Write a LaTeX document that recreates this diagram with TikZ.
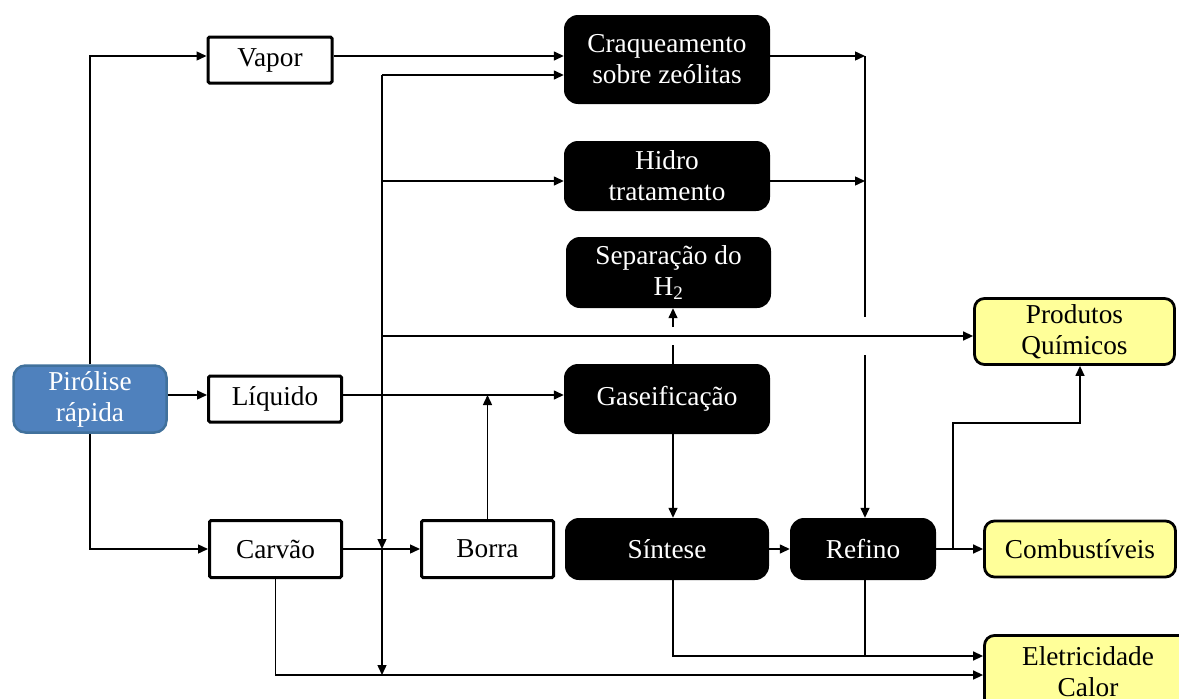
\documentclass[tikz,border=0pt]{standalone}
\usepackage{fontspec}
\setmainfont{Liberation Serif}
\usetikzlibrary{arrows.meta}
\definecolor{pirblue}{HTML}{4F81BD}
\definecolor{pirborder}{HTML}{41719C}
\definecolor{prodyellow}{HTML}{FFFF99}
\newcommand\fsz{\fontsize{27.3}{31}\selectfont}
\tikzset{
  line/.style={line width=1.4pt},
  arr/.style={line, -{Triangle[length=10pt,width=9pt]}},
  base/.style={inner sep=0pt, align=center, font=\fsz},
  whitebox/.style={base, draw, line width=3pt, fill=white, rounded corners=1.5pt},
  blackbox/.style={base, fill=black, text=white, rounded corners=14pt},
  yellowbox/.style={base, draw, line width=2.8pt, fill=prodyellow, rounded corners=10pt},
  pirbox/.style={base, draw=pirborder, line width=2.5pt, fill=pirblue, text=white, rounded corners=12pt}
}
\begin{document}
\begin{tikzpicture}[x=1pt,y=-1pt]
\useasboundingbox (0,0) rectangle (1179,699);

% source and intermediate products
\node[pirbox, minimum width=153, minimum height=67] (pir) at (90,399) {Pirólise\\rápida};
\node[whitebox, minimum width=124, minimum height=46] (vapor) at (270,60) {Vapor};
\node[whitebox, minimum width=133, minimum height=46] (liq) at (275,399) {Líquido};
\node[whitebox, minimum width=132, minimum height=57] (carvao) at (275.5,549) {Carvão};
\node[whitebox, minimum width=132, minimum height=57] (borra) at (487.5,549) {Borra};

% processes
\node[blackbox, minimum width=206, minimum height=89] (craq) at (667,59.5) {Craqueamento\\sobre zeólitas};
\node[blackbox, minimum width=206, minimum height=70] (hidro) at (667,176) {Hidro\\tratamento};
\node[blackbox, minimum width=205, minimum height=71] (sep) at (668.5,272.5) {Separação do\\H\textsubscript{2}};
\node[blackbox, minimum width=206, minimum height=70] (gas) at (667,399) {Gaseificação};
\node[blackbox, minimum width=204, minimum height=62] (sint) at (667,549) {Síntese};
\node[blackbox, minimum width=146, minimum height=62] (refino) at (863,549) {Refino};

% final products
\node[yellowbox, minimum width=200, minimum height=66] (prod) at (1074.5,331.5) {Produtos\\Químicos};
\node[yellowbox, minimum width=191, minimum height=56] (comb) at (1080,549) {Combustíveis};
\node[yellowbox, minimum width=207, minimum height=73] (elec) at (1088,672) {Eletricidade\\Calor};

% routing coordinates
\coordinate (yV) at (0,56);
\coordinate (yC) at (0,75);
\coordinate (yH) at (0,181);
\coordinate (yP) at (0,336);
\coordinate (yL) at (0,395);
\coordinate (yQ) at (0,423);
\coordinate (yE1) at (0,656);
\coordinate (yE2) at (0,675);
\coordinate (yRa) at (0,317);
\coordinate (yRb) at (0,355);
\coordinate (yGa) at (0,345);
\coordinate (yGb) at (0,327);
\coordinate (xB) at (382,0);
\coordinate (xG) at (673,0);
\coordinate (xR) at (865,0);
\coordinate (xQ) at (953,0);
\coordinate (xP) at (1080,0);

% pyrolysis outputs
\draw[arr] (pir.north) |- (vapor.west |- yV);
\draw[arr] (pir.east |- yL) -- (liq.west |- yL);
\draw[arr] (pir.south) |- (carvao.west);

% vapour and liquid routes
\draw[arr] (vapor.east |- yV) -- (craq.west |- yV);
\draw[arr] (liq.east |- yL) -- (gas.west |- yL);
\draw[arr] (carvao.east) -- (borra.west);
\draw[arr] (borra.north) -- (borra.north |- yL);

% vertical distribution line
\draw[arr] (xB |- yC) -- (xB |- carvao.east);
\draw[arr] (xB |- carvao.east) -- (xB |- yE2);
\draw[arr] (xB |- yC) -- (craq.west |- yC);
\draw[arr] (xB |- yH) -- (hidro.west |- yH);
\draw[arr] (xB |- yP) -- (prod.west |- yP);

% upgrading routes to refining
\draw[arr] (craq.east |- yV) -- (xR |- yV);
\draw[arr] (hidro.east |- yH) -- (xR |- yH);
\draw[line] (xR |- yV) -- (xR |- yRa);
\draw[arr] (xR |- yRb) -- (refino.north -| xR);

% gasification branch
\draw[line] (gas.north -| xG) -- (xG |- yGa);
\draw[arr] (xG |- yGb) -- (sep.south -| xG);
\draw[arr] (gas.south -| xG) -- (sint.north -| xG);
\draw[arr] (sint.east) -- (refino.west);

% products
\draw[arr] (refino.east) -- (comb.west);
\draw[arr] (xQ |- refino.east) |- (xP |- yQ) -- (xP |- prod.south);
\draw[arr] (sint.south -| xG) |- (elec.west |- yE1);
\draw[line] (refino.south -| xR) -- (xR |- yE1);
\draw[arr] (carvao.south) |- (elec.west |- yE2);
\end{tikzpicture}
\end{document}
